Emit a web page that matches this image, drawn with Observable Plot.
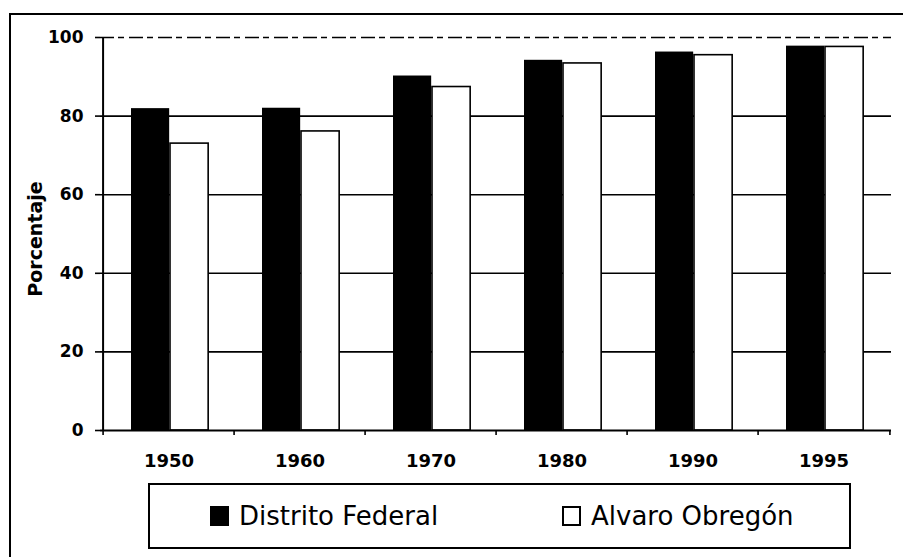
<!DOCTYPE html>
<html>
<head>
<meta charset="utf-8">
<script src="https://cdn.jsdelivr.net/npm/d3@7"></script>
<script src="https://cdn.jsdelivr.net/npm/@observablehq/plot@0.6"></script>
<style>
  html, body { margin: 0; padding: 0; background: #fff; }
  #wrap { position: relative; width: 903px; height: 557px; overflow: hidden; background: #fff; font-family: "DejaVu Sans", sans-serif; }
  #frame { position: absolute; left: 9px; top: 13px; width: 900px; height: 560px; border-top: 2px solid #000; border-left: 2px solid #000; box-sizing: border-box; z-index: 2; pointer-events: none; }
  #chart { position: absolute; left: 0; top: 0; z-index: 1; }
  #chart svg { background: transparent !important; }
  #chart svg text { font-weight: bold; fill: #000; }
  #legend { position: absolute; left: 148px; top: 483px; width: 703px; height: 66px; border: 2px solid #000; box-sizing: border-box; z-index: 1; background: #fff; }
  .item { position: absolute; top: 0; height: 62px; display: flex; align-items: center; font-size: 26px; color: #000; white-space: nowrap; }
  .sw { display: inline-block; width: 19px; height: 20px; box-sizing: border-box; border: 2px solid #000; margin-right: 10px; }
</style>
</head>
<body>
<div id="wrap">
  <div id="frame"></div>
  <div id="chart"></div>
  <div id="legend"></div>
</div>
<script>
const years = ["1950", "1960", "1970", "1980", "1990", "1995"];
const distritoFederal = [81.9, 82.0, 90.2, 94.2, 96.3, 97.8];
const alvaroObregon = [73.0, 76.1, 87.4, 93.4, 95.5, 97.6];
const seriesNames = ["Distrito Federal", "Alvaro Obregón"];
const seriesFills = ["#000000", "#ffffff"];
const yTicks = [0, 20, 40, 60, 80, 100];
const yLabel = "Porcentaje";

const W = 903, H = 480, mL = 100, mR = 12, mT = 37, mB = 50;
const step = (W - mL - mR) / years.length;
const barW = 39;

const dfData = years.map((y, i) => ({year: y, value: distritoFederal[i]}));
const aoData = years.map((y, i) => ({year: y, value: alvaroObregon[i]}));

const chart = Plot.plot({
  width: W, height: H,
  marginLeft: mL, marginRight: mR, marginTop: mT, marginBottom: mB,
  style: {fontFamily: "DejaVu Sans", fontSize: "17px", background: "transparent", color: "#000"},
  x: {domain: years, padding: 0, label: null},
  y: {domain: [0, 100], label: null},
  marks: [
    Plot.ruleY(yTicks.filter(t => t > 0 && t < 100), {stroke: "#000", strokeWidth: 1.6}),
    Plot.ruleY([100], {stroke: "#000", strokeWidth: 1.3, strokeDasharray: "14,4,6,5"}),
    Plot.barY(dfData, {x: "year", y: "value", fill: seriesFills[0], insetLeft: 28, insetRight: step - 28 - barW}),
    Plot.barY(aoData, {x: "year", y: "value", fill: seriesFills[1], stroke: "#000", strokeWidth: 1.6, insetLeft: 28 + barW, insetRight: step - 28 - 2 * barW}),
    Plot.ruleY([0], {stroke: "#000", strokeWidth: 2}),
    Plot.ruleX([years[0]], {x: d => d, y1: 0, y2: 100, dx: -step / 2, stroke: "#000", strokeWidth: 2}),
    Plot.ruleX(years, {x: d => d, y1: 0, y2: -1.3, dx: -step / 2, stroke: "#000", strokeWidth: 1.6}),
    Plot.ruleX([years[years.length - 1]], {x: d => d, y1: 0, y2: -1.3, dx: step / 2, stroke: "#000", strokeWidth: 1.6}),
    Plot.axisY({ticks: yTicks, tickSize: 5, tickPadding: 12, fontSize: 17, tickFormat: d => String(d), label: null, strokeWidth: 1.6}),
    Plot.axisX({tickSize: 0, tickPadding: 24, fontSize: 18, label: null}),
    Plot.text([yLabel], {frameAnchor: "left", textAnchor: "middle", lineAnchor: "middle", dx: -65, dy: 5, rotate: -90, fontSize: 19, fontWeight: "bold"})
  ]
});
document.getElementById("chart").appendChild(chart);

const legend = document.getElementById("legend");
const itemLefts = [60, 412];
seriesNames.forEach((name, i) => {
  const it = document.createElement("div");
  it.className = "item";
  it.style.left = itemLefts[i] + "px";
  const sw = document.createElement("span");
  sw.className = "sw";
  sw.style.background = seriesFills[i];
  it.appendChild(sw);
  it.appendChild(document.createTextNode(name));
  legend.appendChild(it);
});
</script>
</body>
</html>
